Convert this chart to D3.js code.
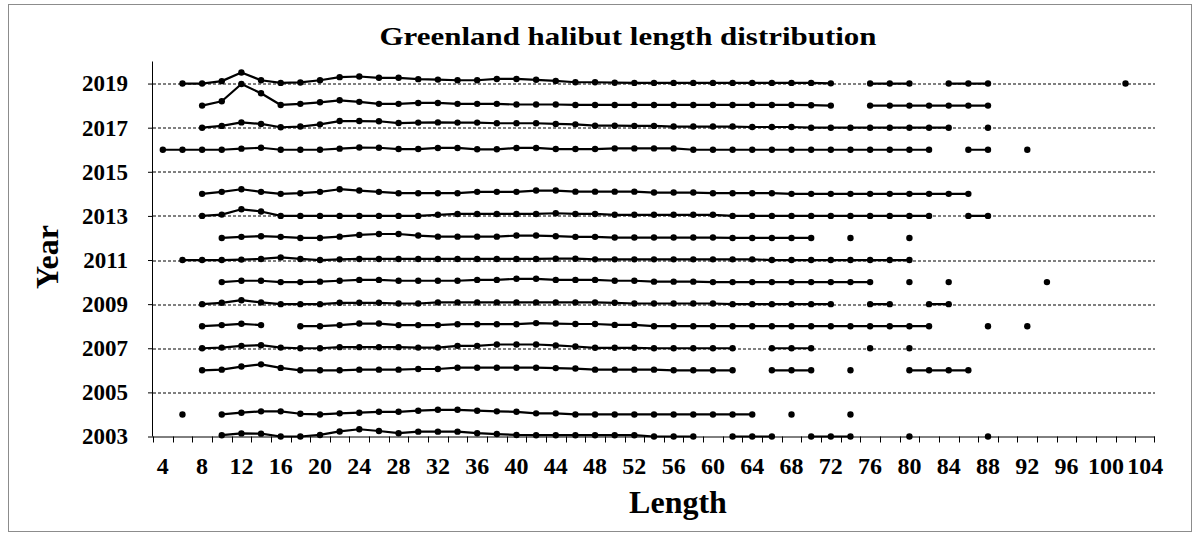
<!DOCTYPE html>
<html>
<head>
<meta charset="utf-8">
<script src="https://cdn.jsdelivr.net/npm/d3@7"></script>
<style>
  body { margin: 0; background: #fff; }
  text { font-family: "Liberation Serif", "Times New Roman", serif; font-weight: bold; }
</style>
</head>
<body>
<div id="chart"></div>
<script>
// length classes (cm), one category each
const lengths = [4, 6, 8, 10, 12, 14, 16, 18, 20, 22, 24, 26, 28, 30, 32, 34, 36, 38, 40, 42,
                 44, 46, 48, 50, 52, 54, 56, 58, 60, 62, 64, 66, 68, 70, 72, 74, 76, 78, 80, 82,
                 84, 86, 88, 90, 92, 94, 96, 98, 100, 102, 104];
const lengthLabels = [4, 8, 12, 16, 20, 24, 28, 32, 36, 40, 44, 48, 52, 56, 60, 64, 68, 72, 76, 80,
                      84, 88, 92, 96, 100, 104];
const yearTicks = [2003, 2005, 2007, 2009, 2011, 2013, 2015, 2017, 2019];

// relative frequency per length class, plotted on top of the survey year (null = no catch)
const f2019 = [null, 0, 0, 0.11, 0.50, 0.15, 0.03, 0.05, 0.15, 0.29,
               0.32, 0.26, 0.26, 0.20, 0.18, 0.15, 0.15, 0.21, 0.21, 0.17,
               0.12, 0.06, 0.06, 0.04, 0.03, 0.03, 0.03, 0.03, 0.03, 0.03,
               0.03, 0.03, 0.03, 0.03, 0.01, null, 0, 0, 0, null,
               0, 0, 0, null, null, null, null, null, null, 0];
const f2018 = [null, null, 0, 0.20, 0.98, 0.56, 0.03, 0.08, 0.15, 0.24,
               0.17, 0.08, 0.08, 0.12, 0.12, 0.08, 0.08, 0.08, 0.05, 0.05,
               0.05, 0.03, 0.03, 0.03, 0.03, 0.03, 0.03, 0.03, 0.03, 0.03,
               0.03, 0.03, 0.03, 0.02, 0, null, 0, 0, 0, 0,
               0, 0, 0];
const f2017 = [null, null, 0, 0.08, 0.24, 0.17, 0.02, 0.05, 0.15, 0.30,
               0.30, 0.29, 0.21, 0.23, 0.24, 0.23, 0.23, 0.20, 0.20, 0.20,
               0.17, 0.15, 0.09, 0.09, 0.08, 0.08, 0.05, 0.05, 0.05, 0.05,
               0.03, 0.03, 0.03, 0, 0, 0, 0, 0, 0, 0,
               0, null, 0];
const f2016 = [0, 0, 0, 0, 0.05, 0.09, 0, 0, 0, 0.05,
               0.10, 0.09, 0.03, 0.03, 0.08, 0.08, 0.02, 0.02, 0.08, 0.08,
               0.03, 0.03, 0.03, 0.06, 0.06, 0.06, 0.06, 0, 0, 0,
               0, 0, 0, 0, 0, 0, 0, 0, 0, 0,
               null, 0, 0, null, 0];
const f2014 = [null, null, 0, 0.09, 0.21, 0.09, 0, 0.03, 0.09, 0.21,
               0.15, 0.09, 0.03, 0.03, 0.03, 0.03, 0.09, 0.09, 0.09, 0.15,
               0.15, 0.10, 0.10, 0.10, 0.10, 0.06, 0.06, 0.06, 0.03, 0.03,
               0.03, 0.03, 0, 0, 0, 0, 0, 0, 0, 0,
               0, 0];
const f2013 = [null, null, 0, 0.06, 0.30, 0.20, 0, 0, 0, 0,
               0, 0, 0, 0, 0.05, 0.09, 0.09, 0.09, 0.09, 0.09,
               0.12, 0.09, 0.09, 0.05, 0.05, 0.05, 0.05, 0.05, 0.05, 0,
               0, 0, 0, 0, 0, 0, 0, 0, 0, 0,
               null, 0, 0];
const f2012 = [null, null, null, 0, 0.05, 0.08, 0.05, 0, 0, 0.06,
               0.14, 0.18, 0.18, 0.11, 0.06, 0.06, 0.06, 0.06, 0.11, 0.11,
               0.08, 0.05, 0.05, 0.02, 0.02, 0.02, 0.02, 0.02, 0.02, 0,
               0, 0, 0, 0, null, 0, null, null, 0];
const f2011 = [null, 0, 0, 0, 0.02, 0.05, 0.12, 0.05, 0, 0.03,
               0.05, 0.05, 0.05, 0.05, 0.05, 0.05, 0.05, 0.05, 0.05, 0.05,
               0.06, 0.06, 0.03, 0.03, 0.03, 0.03, 0.03, 0.03, 0.03, 0.03,
               0.03, 0, 0, 0, 0, 0, 0, 0, 0];
const f2010 = [null, null, null, 0, 0.06, 0.06, 0, 0, 0.02, 0.06,
               0.10, 0.10, 0.06, 0.06, 0.06, 0.06, 0.10, 0.10, 0.15, 0.15,
               0.10, 0.10, 0.10, 0.06, 0.06, 0.02, 0.02, 0.02, 0, 0,
               0, 0, 0, 0, 0, 0, 0, null, 0, null,
               0, null, null, null, null, 0];
const f2009 = [null, null, 0, 0.06, 0.18, 0.08, 0, 0, 0, 0.06,
               0.06, 0.06, 0.03, 0.03, 0.08, 0.08, 0.08, 0.08, 0.08, 0.08,
               0.08, 0.08, 0.08, 0.06, 0.03, 0.03, 0.03, 0.03, 0.03, 0,
               0, 0, 0, 0, 0, null, 0, 0, null, 0,
               0];
const f2008 = [null, null, 0, 0.05, 0.11, 0.05, null, 0, 0, 0.05,
               0.12, 0.12, 0.05, 0.05, 0.05, 0.09, 0.09, 0.09, 0.09, 0.14,
               0.12, 0.10, 0.10, 0.06, 0.06, 0, 0, 0, 0, 0,
               0, 0, 0, 0, 0, 0, 0, 0, 0, 0,
               null, null, 0, null, 0];
const f2007 = [null, null, 0, 0.03, 0.11, 0.14, 0.03, 0, 0, 0.05,
               0.05, 0.05, 0.05, 0.03, 0.03, 0.11, 0.11, 0.17, 0.17, 0.17,
               0.13, 0.08, 0.02, 0.02, 0.02, 0, 0, 0, 0, 0,
               null, 0, 0, 0, null, null, 0, null, 0];
const f2006 = [null, null, 0, 0.03, 0.17, 0.27, 0.11, 0, 0, 0,
               0.03, 0.03, 0.03, 0.06, 0.06, 0.12, 0.12, 0.12, 0.12, 0.12,
               0.10, 0.08, 0.03, 0.03, 0.03, 0.03, 0, 0, 0, 0,
               null, 0, 0, 0, null, 0, null, null, 0, 0,
               0, 0];
const f2004 = [null, 0, null, 0, 0.08, 0.14, 0.14, 0.03, 0, 0.05,
               0.08, 0.12, 0.12, 0.17, 0.21, 0.21, 0.17, 0.14, 0.12, 0.05,
               0.05, 0, 0, 0, 0, 0, 0, 0, 0, 0,
               0, null, 0, null, null, 0];
const f2003 = [null, null, null, 0.06, 0.14, 0.13, 0, 0, 0.07, 0.23,
               0.33, 0.25, 0.15, 0.22, 0.22, 0.22, 0.15, 0.11, 0.07, 0.06,
               0.06, 0.06, 0.06, 0.06, 0.06, 0, 0, 0, null, 0,
               0, 0, null, 0, 0, 0, null, null, 0, null,
               null, null, 0];

const rows = [
  [2019, f2019], [2018, f2018], [2017, f2017], [2016, f2016], [2014, f2014],
  [2013, f2013], [2012, f2012], [2011, f2011], [2010, f2010], [2009, f2009],
  [2008, f2008], [2007, f2007], [2006, f2006], [2004, f2004], [2003, f2003]
];

const serif = "'Liberation Serif', 'Times New Roman', serif";
const W = 1201, H = 534;
const margin = {top: 61.5, right: 46, bottom: 97.5, left: 153};
const width = W - margin.left - margin.right,
      height = H - margin.top - margin.bottom;

const svg = d3.select("#chart").append("svg")
    .attr("width", W)
    .attr("height", H);

// outer frame
svg.append("rect")
    .attr("x", 8.5).attr("y", 4.5)
    .attr("width", 1183).attr("height", 527)
    .attr("fill", "none")
    .attr("stroke", "#8c8c8c");

const g = svg.append("g")
    .attr("transform", `translate(${margin.left},${margin.top})`);

const x = d3.scaleBand().domain(lengths).range([0, width]).padding(0);
const y = d3.scaleLinear().domain([2003, 2020]).range([height, 0]);
const cx = d => x(d) + x.bandwidth() / 2;

// dashed grid lines
g.append("g")
  .selectAll("line")
  .data(yearTicks.filter(d => d > 2003))
  .join("line")
    .attr("x1", 0).attr("x2", width)
    .attr("y1", d => Math.round(y(d)) + 0.5)
    .attr("y2", d => Math.round(y(d)) + 0.5)
    .attr("stroke", "#000")
    .attr("stroke-width", 1)
    .attr("stroke-dasharray", "3,2");

// Y axis
const yAxis = g.append("g")
    .call(d3.axisLeft(y).tickValues(yearTicks).tickFormat(d3.format("d")).tickSize(5).tickPadding(20));
yAxis.select(".domain").attr("stroke", "#000").attr("d", `M-0.5,${height}V0`);
yAxis.selectAll(".tick text")
    .attr("font-family", serif)
    .attr("font-weight", "bold")
    .attr("font-size", 23)
    .attr("fill", "#000");

// X axis: labels on every other class, tick marks between classes
const xAxis = g.append("g")
    .attr("transform", `translate(0,${height})`)
    .call(d3.axisBottom(x).tickValues(lengthLabels).tickSize(0).tickPadding(20));
xAxis.select(".domain").attr("stroke", "#000").attr("d", `M0,0.5H${width}`);
xAxis.selectAll(".tick text")
    .attr("font-family", serif)
    .attr("font-weight", "bold")
    .attr("font-size", 24)
    .attr("fill", "#000");
xAxis.append("g")
  .selectAll("line")
  .data(lengths.concat(["end"]))
  .join("line")
    .attr("x1", d => d === "end" ? width - 0.5 : Math.round(x(d)) + 0.5)
    .attr("x2", d => d === "end" ? width - 0.5 : Math.round(x(d)) + 0.5)
    .attr("y1", 0).attr("y2", 6)
    .attr("stroke", "#000");

// one line + markers per year
const line = d3.line()
    .defined(d => d.v != null)
    .x(d => cx(d.len))
    .y(d => y(d.year + d.v));

rows.forEach(([year, vals]) => {
  const pts = lengths.map((len, i) => ({len, year, v: vals[i] == null ? null : vals[i]}));
  g.append("path")
    .datum(pts)
    .attr("d", line)
    .attr("fill", "none")
    .attr("stroke", "#000")
    .attr("stroke-width", 2.2)
    .attr("stroke-linejoin", "round");
  g.append("g")
    .selectAll("circle")
    .data(pts.filter(d => d.v != null))
    .join("circle")
      .attr("cx", d => cx(d.len))
      .attr("cy", d => y(d.year + d.v))
      .attr("r", 3.2)
      .attr("fill", "#000");
});

// titles
svg.append("text")
    .attr("x", 628).attr("y", 45)
    .attr("text-anchor", "middle")
    .attr("font-family", serif)
    .attr("font-weight", "bold")
    .attr("font-size", 25)
    .attr("textLength", 497)
    .attr("lengthAdjust", "spacingAndGlyphs")
    .text("Greenland halibut length distribution");

svg.append("text")
    .attr("x", 678).attr("y", 513)
    .attr("text-anchor", "middle")
    .attr("font-family", serif)
    .attr("font-weight", "bold")
    .attr("font-size", 32)
    .text("Length");

svg.append("text")
    .attr("transform", "translate(58,257) rotate(-90)")
    .attr("text-anchor", "middle")
    .attr("font-family", serif)
    .attr("font-weight", "bold")
    .attr("font-size", 32)
    .text("Year");
</script>
</body>
</html>
